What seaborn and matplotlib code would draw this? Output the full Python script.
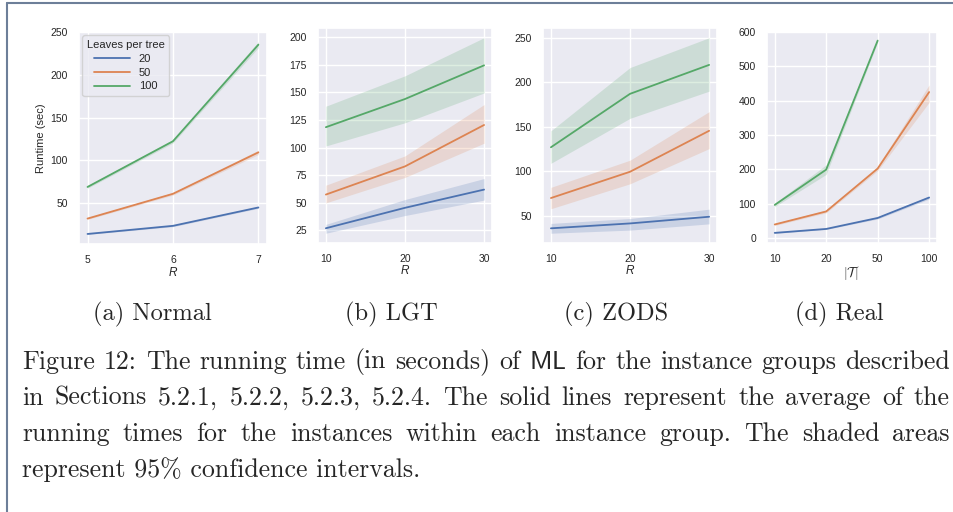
import numpy as np
import pandas as pd
import seaborn as sns
import matplotlib.pyplot as plt
from matplotlib.lines import Line2D

# --- veriler (resimden okunan ortalamalar ve %95 GA sınırları) ---
leaves = ["20", "50", "100"]

# (a) Normal
r_normal = [5, 6, 7]
normal_mean = {"20": [14, 23.5, 45], "50": [32, 61, 109.5], "100": [69, 122.5, 235.5]}
normal_lo = {"20": [13.5, 22.5, 44], "50": [31, 59.5, 107], "100": [67.5, 120.5, 232]}
normal_hi = {"20": [14.5, 24.5, 46], "50": [33, 62.5, 112], "100": [70.5, 124.5, 239]}

# (b) LGT
r_lgt = [10, 20, 30]
lgt_mean = {"20": [27, 45.5, 62], "50": [57.5, 83, 120.5], "100": [118.5, 144, 174.5]}
lgt_lo = {"20": [22.5, 38.5, 52.5], "50": [50, 73, 104], "100": [101.5, 122.5, 149.5]}
lgt_hi = {"20": [30.5, 53, 72], "50": [66, 92.5, 139], "100": [137.5, 165, 199.5]}

# (c) ZODS
r_zods = [10, 20, 30]
zods_mean = {"20": [36, 41.5, 49], "50": [70, 99.5, 145.5], "100": [127, 187, 219.5]}
zods_lo = {"20": [30.5, 34, 41], "50": [58, 86, 125.5], "100": [109, 159.5, 190]}
zods_hi = {"20": [41.5, 47, 57.5], "50": [82, 112.5, 167], "100": [145.5, 216.5, 250]}

# (d) Real
t_real = ["10", "20", "50", "100"]
real_mean = {"20": [14.5, 26, 58, 117.5], "50": [39, 77, 202, 425], "100": [96, 199, 575, np.nan]}
real_lo = {"20": [13, 24.5, 55, 113], "50": [36, 73, 196, 395], "100": [91, 185, 570, np.nan]}
real_hi = {"20": [16, 27.5, 61, 122], "50": [42, 81, 208, 446], "100": [101, 213, 581, np.nan]}

sns.set_theme(style="darkgrid")
colors = sns.color_palette("deep", 3)
plt.rcParams["mathtext.fontset"] = "cm"
plt.rcParams["font.family"] = ["Liberation Sans", "DejaVu Sans"]

fig = plt.figure(figsize=(9.54, 5.12), dpi=100)

panels = [
    ([0.0828, 0.5234, 0.197, 0.414], r_normal, normal_mean, normal_lo, normal_hi, "R"),
    ([0.3333, 0.5254, 0.1824, 0.42], r_lgt, lgt_mean, lgt_lo, lgt_hi, "R"),
    ([0.5692, 0.5254, 0.1824, 0.42], r_zods, zods_mean, zods_lo, zods_hi, "R"),
    ([0.804, 0.5254, 0.178, 0.412], t_real, real_mean, real_lo, real_hi, r"$|\mathcal{T}|$"),
]

axes = []
for rect, xs, mean, lo, hi, xlabel in panels:
    ax = fig.add_axes(rect)
    rows = []
    for k in leaves:
        for x, m in zip(xs, mean[k]):
            rows.append({"x": x, "y": m, "leaves": k})
    df = pd.DataFrame(rows).dropna()
    sns.lineplot(data=df, x="x", y="y", hue="leaves", palette=colors,
                 errorbar=None, linewidth=1.3, ax=ax, legend=False, sort=False)
    # kategorik eksende konumlar 0..n-1
    pos = xs if not isinstance(xs[0], str) else np.arange(len(xs))
    for i, k in enumerate(leaves):
        ax.fill_between(pos, lo[k], hi[k], color=colors[i], alpha=0.2, linewidth=0)
    ax.set_xticks(pos)
    ax.set_xticklabels(xs)
    ax.set_xlabel(xlabel, fontsize=8.5, labelpad=1, style="italic")
    ax.set_ylabel("")
    ax.tick_params(labelsize=7.5, pad=2)
    axes.append(ax)

axes[0].set_ylabel("Runtime (sec)", fontsize=8, labelpad=3)
axes[3].set_xlabel(r"$|\mathcal{T}|$", fontsize=10, labelpad=0)
axes[3].set_ylim(-15, 600)
axes[3].set_yticks([0, 100, 200, 300, 400, 500, 600])

handles = [Line2D([], [], color=colors[i], linewidth=1.3) for i in range(3)]
axes[0].legend(handles, leaves, title="Leaves per tree", loc="upper left",
               fontsize=8, title_fontsize=8, handlelength=3.2,
               borderaxespad=0.3, labelspacing=0.35, borderpad=0.4)

# alt yazılar
serif = "cmr10"
for xc, txt in [(152, "(a) Normal"), (391, "(b) LGT"), (616, "(c) ZODS"), (839, "(d) Real")]:
    fig.text(xc / 954, 1 - 314 / 512, txt, family=serif, fontsize=17.6,
             ha="center", va="center")

lines = [
    r"Figure 12: The running time (in seconds) of $\mathsf{ML}$ for the instance groups described",
    "in Sections 5.2.1, 5.2.2, 5.2.3, 5.2.4. The solid lines represent the average of the",
    "running times for the instances within each instance group. The shaded areas",
    "represent 95% confidence intervals.",
]
x_left, x_right = 22, 950
renderer = fig.canvas.get_renderer()
for i, txt in enumerate(lines):
    y = 1 - (362 + 36 * i) / 512
    words = txt.split(" ")
    if i == len(lines) - 1:
        fig.text(x_left / 954, y, txt, family=serif, fontsize=18.6, ha="left", va="center")
        continue
    # iki yana yaslı satır: kelime genişliklerini ölç, boşlukları dağıt
    arts = [fig.text(0, y, w, family=serif, fontsize=18.6, ha="left", va="center") for w in words]
    widths = [a.get_window_extent(renderer).width for a in arts]
    gap = (x_right - x_left - sum(widths)) / (len(words) - 1)
    x = x_left
    for a, w in zip(arts, widths):
        a.set_x(x / 954)
        x += w + gap

# ekran görüntüsü çerçevesi
fig.add_artist(Line2D([7 / 954, 7 / 954], [0, 1 - 3 / 512], color="#6d7f99", linewidth=1.5))
fig.add_artist(Line2D([7 / 954, 1], [1 - 3 / 512, 1 - 3 / 512], color="#6d7f99", linewidth=1.5))

fig.savefig("out.png", dpi=100)
